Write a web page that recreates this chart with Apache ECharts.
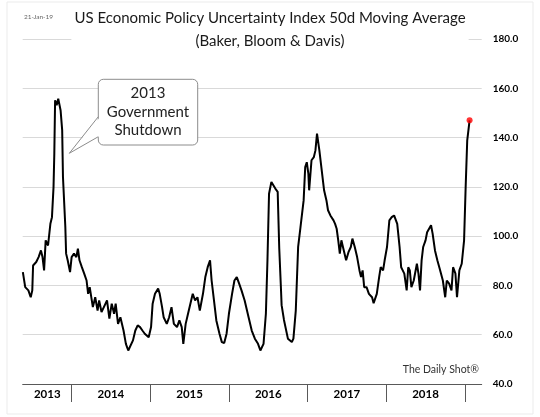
<!DOCTYPE html>
<html>
<head>
<meta charset="utf-8">
<script src="https://cdn.jsdelivr.net/npm/echarts@6/dist/echarts.min.js"></script>
<style>
  html, body { margin: 0; padding: 0; background: #fff; }
  #chart { width: 540px; height: 417px; }
</style>
</head>
<body>
<div id="chart"></div>
<script>
// 50d moving average of the EPU index (x in decimal years)
var t = [2013.38,2013.41,2013.45,2013.48,2013.50,2013.51,2013.55,2013.58,2013.61,2013.63,
  2013.65,2013.67,2013.70,2013.73,2013.75,2013.77,2013.78,2013.79,2013.81,2013.83,
  2013.84,2013.86,2013.88,2013.89,2013.92,2013.93,2013.95,2013.98,2014.00,2014.03,
  2014.06,2014.08,2014.10,2014.13,2014.16,2014.19,2014.21,2014.23,2014.27,2014.30,
  2014.33,2014.35,2014.38,2014.41,2014.45,2014.48,2014.51,2014.54,2014.56,2014.59,
  2014.62,2014.66,2014.69,2014.72,2014.74,2014.78,2014.81,2014.84,2014.87,2014.90,
  2014.93,2014.98,2015.01,2015.03,2015.06,2015.10,2015.12,2015.15,2015.17,2015.21,
  2015.24,2015.27,2015.30,2015.34,2015.37,2015.40,2015.42,2015.45,2015.48,2015.54,
  2015.57,2015.60,2015.63,2015.67,2015.70,2015.73,2015.76,2015.78,2015.81,2015.84,
  2015.88,2015.91,2015.94,2015.97,2016.00,2016.04,2016.07,2016.10,2016.13,2016.16,
  2016.20,2016.25,2016.29,2016.33,2016.37,2016.40,2016.44,2016.47,2016.49,2016.51,
  2016.54,2016.59,2016.62,2016.64,2016.66,2016.67,2016.70,2016.75,2016.80,2016.82,
  2016.85,2016.88,2016.91,2016.95,2016.97,2016.99,2017.01,2017.02,2017.05,2017.08,
  2017.10,2017.12,2017.15,2017.18,2017.21,2017.24,2017.26,2017.29,2017.33,2017.35,
  2017.37,2017.39,2017.41,2017.43,2017.45,2017.49,2017.52,2017.55,2017.57,2017.60,
  2017.63,2017.66,2017.68,2017.70,2017.72,2017.75,2017.78,2017.82,2017.84,2017.88,
  2017.91,2017.93,2017.96,2017.98,2018.01,2018.04,2018.07,2018.10,2018.12,2018.14,
  2018.17,2018.19,2018.21,2018.23,2018.26,2018.28,2018.30,2018.32,2018.35,2018.39,
  2018.41,2018.43,2018.45,2018.47,2018.50,2018.52,2018.54,2018.57,2018.59,2018.62,
  2018.65,2018.68,2018.72,2018.75,2018.77,2018.80,2018.83,2018.85,2018.88,2018.90,
  2018.93,2018.96,2018.99,2019.01,2019.03,2019.06];

var epu = [85.4,79.3,78,75.2,78,88.1,89.5,91.5,94.2,91.5,
  86.1,98.3,96.2,105,107.7,119.9,133.5,155.1,153.1,155.8,
  156.5,151,143,124,103.7,92.9,90.2,85.4,91.5,92.9,
  91.5,94.9,90.2,87.4,84.8,82,76.6,79.3,71.2,75.2,
  69.8,73.9,69.2,71.2,73.9,66.5,72.6,68.5,72.6,64.4,
  67.1,61.7,56.3,53.6,52.9,57.7,61.7,63.8,63.1,61.7,
  60.4,59,63.1,72.6,76.6,78.7,76.6,71.2,67.1,64.4,
  67.1,71.2,64.4,63.1,65.8,63.1,56.3,64.4,68.5,76.6,
  73.9,75.2,69.8,76.6,83.4,87.4,90.2,82,73.9,65.8,
  60.4,57,56.6,60.4,68.5,76.6,82,83.4,80.7,78,
  73.9,67.1,61.7,58.4,56.3,53.6,56.3,68.5,90.2,117.2,
  122,119.3,118,95,80,72,66,58.4,57,58.4,
  69.8,95.6,103.7,114.5,128,130,125.4,118.6,130.8,132.1,
  134.8,141.6,134.8,126.7,118.6,114.5,110.5,108.4,106.4,105,
  103,98.3,92.9,98.3,95.6,90.2,93.5,95.6,99,95.6,
  91.5,86.1,83.4,86.1,79.3,79.3,76.6,75.2,72.8,76.6,
  83.4,87.4,86.1,90.2,95.6,106.4,107.7,108.4,109.1,105,
  95.6,87.4,86.1,84.8,78,87.4,86.1,79.3,82,88.8,
  84.8,78,90.2,95.6,98.3,101.6,102.3,104.4,101,94.2,
  90.2,86.8,82,75.2,82,80.7,78,87.4,84.8,75.2,
  86.1,88.8,98.3,119.9,138.9,147];

var yearTicks = [2014, 2015, 2016, 2017, 2018, 2019];
var yearLabelPos = [2013.69, 2014.5, 2015.5, 2016.5, 2017.5, 2018.5];

var FONT = 'Lato, "Open Sans", sans-serif';

var lineData = t.map(function (x, i) { return [x, epu[i]]; });
var last = lineData[lineData.length - 1];

var chart = echarts.init(document.getElementById('chart'));

var option = {
    backgroundColor: '#fff',
    animation: false,
    title: {
        text: 'US Economic Policy Uncertainty Index 50d Moving Average\n(Baker, Bloom & Davis)',
        left: 'center',
        top: 5,
        padding: [2, 3],
        backgroundColor: '#fff',
        textStyle: {
            fontFamily: FONT,
            fontWeight: 'normal',
            fontSize: 15,
            lineHeight: 23,
            color: '#1a1a1a'
        }
    },
    grid: {
        left: 22.7,
        right: 58.3,
        top: 39,
        bottom: 33
    },
    xAxis: {
        type: 'value',
        min: 2013.378,
        max: 2019.214,
        axisLine: { lineStyle: { color: '#595959', width: 1 } },
        axisTick: {
            customValues: yearTicks,
            length: 18,
            lineStyle: { color: '#595959', width: 1 }
        },
        axisLabel: {
            customValues: yearLabelPos,
            formatter: function (v) { return String(Math.floor(v)); },
            margin: 4,
            fontFamily: FONT,
            fontWeight: 'bold',
            fontSize: 11.5,
            color: '#000'
        },
        splitLine: { show: false }
    },
    yAxis: {
        type: 'value',
        position: 'right',
        min: 40,
        max: 180,
        interval: 20,
        axisLine: { show: false },
        axisTick: { show: false },
        axisLabel: {
            formatter: function (v) { return v.toFixed(1); },
            margin: 11,
            fontFamily: FONT,
            fontWeight: 'bold',
            fontSize: 10,
            color: '#000'
        },
        splitLine: { lineStyle: { color: '#d9d9d9', width: 1 } }
    },
    series: [
        {
            type: 'line',
            data: lineData,
            showSymbol: false,
            lineStyle: { color: '#000', width: 2 },
            z: 2
        },
        {
            type: 'scatter',
            data: [last],
            symbolSize: 6,
            itemStyle: { color: '#ff0000' },
            z: 3
        }
    ],
    graphic: [
        {
            type: 'rect',
            shape: { x: 7, y: 2, width: 526, height: 412 },
            style: { fill: 'none', stroke: '#ebebeb', lineWidth: 1 },
            silent: true
        },
        {
            type: 'text',
            x: 24, y: 17,
            style: {
                text: '21-Jan-19',
                fontFamily: FONT,
                fontSize: 6.5,
                fill: '#666',
                verticalAlign: 'middle'
            }
        },
        {
            type: 'text',
            x: 479, y: 370,
            style: {
                text: 'The Daily Shot®',
                fontFamily: FONT,
                fontSize: 10.5,
                fill: '#333',
                align: 'right',
                verticalAlign: 'middle'
            }
        },
        // callout box for the 2013 shutdown
        {
            type: 'rect',
            shape: { x: 98.3, y: 79.3, width: 99.4, height: 65.7, r: 5 },
            style: { fill: '#fff', stroke: '#8c8c8c', lineWidth: 1 },
            z: 10
        },
        {
            type: 'polygon',
            shape: { points: [[100, 117.2], [69.3, 153.3], [100, 136.2]] },
            style: { fill: '#fff', stroke: null },
            z: 11
        },
        {
            type: 'polyline',
            shape: { points: [[98.3, 116.7], [69.3, 153.3], [98.3, 136.7]] },
            style: { fill: null, stroke: '#8c8c8c', lineWidth: 1 },
            z: 12
        },
        {
            type: 'text',
            x: 148, y: 111.7,
            z: 13,
            style: {
                text: '2013\nGovernment\nShutdown',
                fontFamily: FONT,
                fontSize: 15,
                lineHeight: 18.3,
                fill: '#222',
                align: 'center',
                verticalAlign: 'middle'
            }
        }
    ]
};

chart.setOption(option);
</script>
</body>
</html>
